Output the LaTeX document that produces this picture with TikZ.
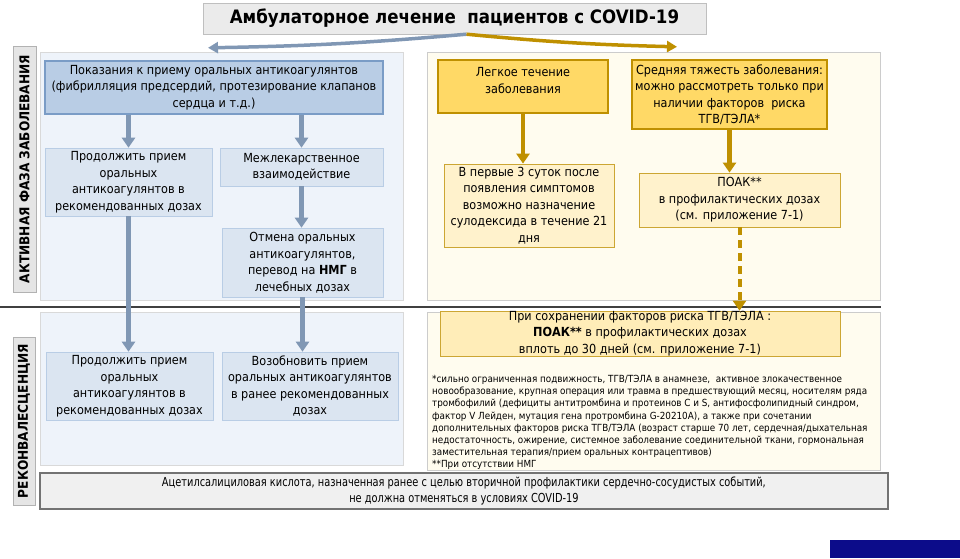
\documentclass[tikz,border=0pt]{standalone}
\usepackage{fontspec}
\setmainfont{DejaVu Sans Condensed}
\newfontfamily\narrowfont{DejaVu Sans Condensed}[FakeStretch=0.88]
\usetikzlibrary{arrows.meta}
\definecolor{arrowblue}{HTML}{8097B4}
\definecolor{headblue}{HTML}{B9CDE5}
\definecolor{headline}{HTML}{7A9CC6}
\definecolor{boxblue}{HTML}{DBE5F1}
\definecolor{panelblue}{HTML}{EEF3FA}
\definecolor{goldline}{HTML}{BF9000}
\definecolor{goldfill}{HTML}{FFD966}
\definecolor{creamfill}{HTML}{FFF2CC}
\definecolor{panelcream}{HTML}{FFFCEF}
\definecolor{navy}{HTML}{0C0C8A}
\tikzset{
  bluepanel/.style={draw=black!15, fill=panelblue},
  goldpanel/.style={draw=black!20, fill=panelcream},
  headbox/.style={draw=headline, line width=1.8pt, fill=headblue},
  lightbox/.style={draw=headblue, line width=0.6pt, fill=boxblue},
  goldbox/.style={draw=goldline, line width=2pt, fill=goldfill},
  creambox/.style={draw=goldline!80, line width=0.8pt, fill=creamfill},
  sidelabel/.style={draw=black!30, fill=black!10, font=\fontsize{13.5}{16}\bfseries},
  barrow/.style={draw=arrowblue, line width=4.5pt, -{Triangle[width=13pt,length=10pt]}},
  garrow/.style={draw=goldline, line width=4.5pt, -{Triangle[width=13pt,length=10pt]}},
}
\begin{document}
\begin{tikzpicture}[x=1pt, y=-1pt, every node/.style={font=\fontsize{12.5}{16.5}\selectfont, align=center, inner sep=0pt}]
\useasboundingbox (0,0) rectangle (960,558);

\node (panAL) at (221.5,176) [bluepanel, minimum width=363, minimum height=248] {};
\node (panBL) at (221.5,388.5) [bluepanel, minimum width=363, minimum height=153] {};
\node (panAR) at (653.5,176) [goldpanel, minimum width=453, minimum height=248] {};
\node (panBR) at (653.5,391) [goldpanel, minimum width=453, minimum height=158] {};
\draw[black!75, line width=2.5pt] (0,307) -- (881,307);

\node (lblA) at (24.5,169) [sidelabel, rotate=90, minimum width=246, minimum height=23] {АКТИВНАЯ ФАЗА ЗАБОЛЕВАНИЯ};
\node (lblB) at (24,421) [sidelabel, rotate=90, minimum width=168, minimum height=22] {РЕКОНВАЛЕСЦЕНЦИЯ};

\node (title) at (454.5,18.5) [draw=black!25, fill=black!8, minimum width=503, minimum height=31, font=\fontsize{18.5}{22}\bfseries] {Амбулаторное лечение\ \ пациентов с COVID-19};

\node (indic) at (214,87.5) [headbox, minimum width=338, minimum height=53] {Показания к приему оральных антикоагулянтов\\(фибрилляция предсердий, протезирование клапанов\\сердца и т.д.)};
\node (contA) at (128.5,182) [lightbox, minimum width=167, minimum height=68] {Продолжить прием\\оральных\\антикоагулянтов в\\рекомендованных дозах};
\node (interact) at (301.5,167) [lightbox, minimum width=163, minimum height=38] {Межлекарственное\\взаимодействие};
\node (cancel) at (302.5,262.5) [lightbox, minimum width=161, minimum height=69] {Отмена оральных\\антикоагулянтов,\\перевод на \textbf{НМГ} в\\лечебных дозах};
\node (contB) at (129.5,386) [lightbox, minimum width=167, minimum height=68] {Продолжить прием\\оральных\\антикоагулянтов в\\рекомендованных дозах};
\node (resume) at (310,386) [lightbox, minimum width=176, minimum height=68] {Возобновить прием\\оральных антикоагулянтов\\в ранее рекомендованных\\дозах};

\node (mild) at (523,86.5) [goldbox, minimum width=170, minimum height=53] {Легкое течение\\заболевания\\[-4pt]\mbox{}};
\node (moderate) at (729.5,94.5) [goldbox, minimum width=195, minimum height=69] {Средняя тяжесть заболевания:\\можно рассмотреть только при\\наличии факторов\ \ риска\\ТГВ/ТЭЛА*};
\node (sulod) at (529,205.5) [creambox, minimum width=170, minimum height=83] {В первые 3 суток после\\появления симптомов\\возможно назначение\\сулодексида в течение 21\\дня};
\node (poak) at (739.5,200) [creambox, minimum width=201, minimum height=54] {ПОАК**\\в профилактических дозах\\(см. приложение 7-1)};
\node (poaklong) at (640,333.5) [creambox, fill=creamfill!80!goldfill, minimum width=400, minimum height=43] {При сохранении факторов риска ТГВ/ТЭЛА :\\\textbf{ПОАК**} в профилактических дозах\\вплоть до 30 дней (см. приложение 7-1)};
\node (notes) at (432,375) [anchor=north west, align=left, font=\fontsize{9.8}{12.2}\selectfont] {*сильно ограниченная подвижность, ТГВ/ТЭЛА в анамнезе,\ \ активное злокачественное\\новообразование, крупная операция или травма в предшествующий месяц, носителям ряда\\тромбофилий (дефициты антитромбина и протеинов С и S, антифосфолипидный синдром,\\фактор V Лейден, мутация гена протромбина G-20210A), а также при сочетании\\дополнительных факторов риска ТГВ/ТЭЛА (возраст старше 70 лет, сердечная/дыхательная\\недостаточность, ожирение, системное заболевание соединительной ткани, гормональная\\заместительная терапия/прием оральных контрацептивов)\\**При отсутствии НМГ};

\node (aspirin) at (464,491) [draw=black!55, line width=1.2pt, fill=black!6, minimum width=848, minimum height=36, font=\narrowfont\fontsize{12.4}{15.5}\selectfont] {Ацетилсалициловая кислота, назначенная ранее с целью вторичной профилактики сердечно-сосудистых событий,\\не должна отменяться в условиях COVID-19};

\fill[navy] (830,540) rectangle (960,558);

\draw[barrow, line width=3.5pt, -{Triangle[width=11pt,length=10pt]}] ([xshift=12pt]title.south) to[bend left=2] ([xshift=-13.5pt,yshift=4pt]panAL.north);
\draw[garrow, line width=3.5pt, -{Triangle[width=11pt,length=10pt]}] ([xshift=12pt]title.south) to[bend right=2] ([xshift=23.5pt,yshift=5pt]panAR.north);

\draw[barrow] (contA.north |- indic.south) -- (contA.north);
\draw[barrow] (interact.north |- indic.south) -- (interact.north);
\draw[barrow] (interact.south) -- (interact.south |- cancel.north);
\draw[barrow] (contA.south) -- (contA.south |- contB.north);
\draw[barrow] (cancel.south) -- (cancel.south |- resume.north);

\draw[garrow] (mild.south) -- (mild.south |- sulod.north);
\draw[garrow] (moderate.south) -- (moderate.south |- poak.north);
\draw[garrow, line width=4pt, dash pattern=on 8pt off 5pt] (poak.south) -- (poak.south |- poaklong.north);
\end{tikzpicture}
\end{document}
